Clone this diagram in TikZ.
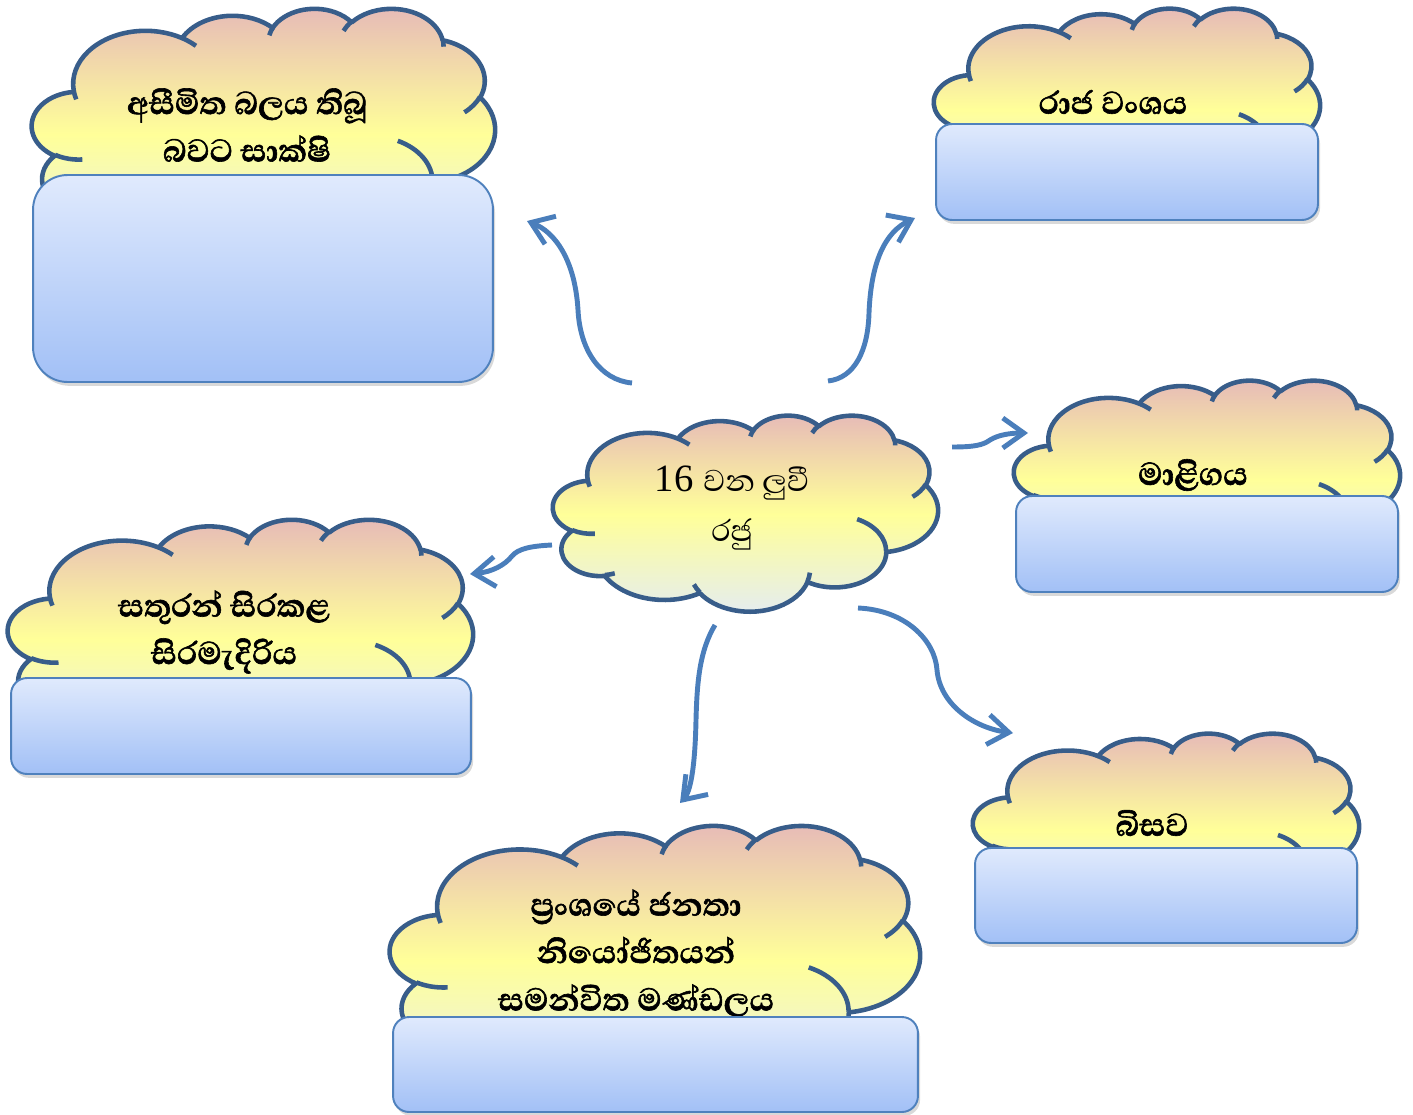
\documentclass[tikz,border=0pt]{standalone}
\usepackage{fontspec}
\setmainfont{Liberation Serif}
\newfontfamily\sinhala[Script=Sinhala, BoldFeatures={FakeBold=1.5}]{Abhaya Libre}
\usetikzlibrary{arrows.meta,shadows}
\definecolor{cloudedge}{HTML}{385D8A}
\definecolor{cloudtop}{HTML}{E6B9B8}
\definecolor{cloudmid}{HTML}{FFFF99}
\definecolor{cloudbot}{HTML}{E4ECF2}
\definecolor{paneledge}{HTML}{4F81BD}
\definecolor{paneltop}{HTML}{E0EAFD}
\definecolor{panelbot}{HTML}{A2C0F6}
\definecolor{flowblue}{HTML}{4A7EBB}

\newcommand\pptarc[4]{%
  \pgfextra{%
    \pgfmathparse{atan2((#1)*sin(#3),(#2)*cos(#3))}\xdef\arcbeg{\pgfmathresult}%
    \pgfmathparse{atan2((#1)*sin((#3)+(#4)),(#2)*cos((#3)+(#4)))-\arcbeg}\xdef\arcraw{\pgfmathresult}%
    \pgfmathparse{\arcraw-360*round((\arcraw-(#4))/360)}\xdef\arcdel{\pgfmathresult}}%
  arc[x radius=#1, y radius=#2, start angle=\arcbeg, delta angle=\arcdel]}

\newcommand\pptcloud[4]{%
  \begin{scope}[shift={(#1,#2)}, xscale=#3/432, yscale=#4/432]
    \path[cloud-body] (39.00,143.70)
      \pptarc{67.53}{91.90}{-190.4875}{123.7805}
      \pptarc{53.33}{72.67}{-144.1024}{89.9452}
      \pptarc{43.65}{59.45}{-145.8079}{99.7230}
      \pptarc{48.57}{65.95}{-130.9861}{117.2417}
      \pptarc{53.33}{72.73}{-78.7089}{109.0269}
      \pptarc{67.75}{92.20}{-46.2673}{130.2690}
      \pptarc{57.85}{78.67}{0.6250}{114.0333}
      \pptarc{67.52}{92.15}{22.4516}{115.1726}
      \pptarc{77.20}{105.43}{66.2426}{75.7110}
      \pptarc{43.60}{59.18}{-274.9421}{146.7356}
      \pptarc{43.45}{59.45}{-246.8285}{152.5189}
      -- cycle;
    \draw[cloud-line]
      (46.93,261.77) \pptarc{43.45}{59.45}{86.7420}{26.4295}
      (69.28,348.99) \pptarc{43.60}{59.18}{73.6105}{11.4475}
      (164.78,390.90) \pptarc{67.52}{92.15}{137.6242}{14.0811}
      (288.27,347.51) \pptarc{67.52}{92.15}{6.4533}{15.9984}
      (341.29,229.54) \pptarc{57.85}{78.67}{-70.2924}{70.9174}
      (417.98,153.54) \pptarc{53.33}{72.73}{30.3180}{27.7515}
      (383.24,54.26) \pptarc{48.57}{65.95}{-13.7443}{14.8589}
      (290.78,39.52) \pptarc{48.57}{65.95}{-149.1815}{18.1954}
      (221.41,47.20) \pptarc{43.65}{59.45}{-163.4943}{17.6864}
      (140.00,51.92) \pptarc{67.53}{91.90}{-66.7070}{12.3194}
      (41.27,157.89) \pptarc{67.53}{91.90}{157.6544}{11.8582};
  \end{scope}}

\begin{document}
\begin{tikzpicture}[x=0.02cm, y=-0.02cm,
        cloud-body/.style={draw=cloudedge, line width=2.6pt, line join=round,
                           top color=cloudtop, bottom color=cloudbot, middle color=cloudmid},
        cloud-line/.style={draw=cloudedge, line width=2.6pt},
        panel/.style={draw=paneledge, line width=1.1pt, top color=paneltop, bottom color=panelbot,
                      drop shadow={shadow xshift=1.2pt, shadow yshift=-2.2pt, opacity=0.3}},
        topic/.style={align=center, inner sep=0pt,
                      font=\sinhala\bfseries\fontsize{23}{27}\selectfont},
        flow/.style={draw=flowblue, line width=2.8pt, -{Straight Barb[length=4.2mm, width=6mm]}}
    ]
        \useasboundingbox (0,0) rectangle (1413,1115);

        \pptcloud{32}{8}{463}{250}
        \node[topic] (proof) at (247,125) {අසීමිත බලය තිබූ\\බවට සාක්ෂි};
        \node[panel, minimum width=9.2cm, minimum height=4.14cm, rounded corners=0.69cm]
            (proof-box) at (263,278.5) {};

        \pptcloud{934}{8}{386}{200}
        \node[topic] (dynasty) at (1113,102) {රාජ වංශය};
        \node[panel, minimum width=7.64cm, minimum height=1.92cm, rounded corners=0.32cm]
            (dynasty-box) at (1127,172) {};

        \pptcloud{553}{415}{385}{196}
        \node[align=center, inner sep=0pt, font=\fontsize{22}{29}\selectfont] (king)
            at (732,508) {16 {\sinhala වන ලුවී}\\{\sinhala රජු}};

        \pptcloud{1014}{380}{386}{196}
        \node[topic] (palace) at (1193,475) {මාළිගය};
        \node[panel, minimum width=7.64cm, minimum height=1.92cm, rounded corners=0.32cm]
            (palace-box) at (1207,544) {};

        \pptcloud{973}{733}{386}{192}
        \node[topic] (queen) at (1152,823) {බිසව};
        \node[panel, minimum width=7.64cm, minimum height=1.9cm, rounded corners=0.32cm]
            (queen-box) at (1166,895.5) {};

        \pptcloud{8}{519}{465}{237}
        \node[topic] (prison) at (224,632) {සතුරන් සිරකළ\\සිරමැදිරිය};
        \node[panel, minimum width=9.2cm, minimum height=1.92cm, rounded corners=0.32cm]
            (prison-box) at (241,726) {};

        \pptcloud{390}{825}{530}{268}
        \node[topic] (assembly) at (636,953)
            {ප්^^^^200dරංශයේ ජනතා\\නියෝජිතයන්\\සමන්විත මණ්ඩලය};
        \node[panel, minimum width=10.5cm, minimum height=1.9cm, rounded corners=0.32cm]
            (assembly-box) at (655.5,1064.5) {};

        \coordinate (king-nw) at (632,383);
        \coordinate (king-ne) at (828,381);
        \coordinate (king-e) at (952,447);
        \coordinate (king-w) at (552,545);
        \coordinate (king-s) at (715,625);
        \coordinate (king-se) at (858,608);
        \coordinate (proof-tip) at (527,221);
        \coordinate (dynasty-tip) at (915,218);
        \coordinate (palace-tip) at (1028,433);
        \coordinate (prison-tip) at (470,574);
        \coordinate (assembly-tip) at (680,803);
        \coordinate (queen-tip) at (1013,733);

        \draw[flow] (king-nw) .. controls (600,380) and (580,350) .. (578,310)
            .. controls (575,260) and (555,232) .. (proof-tip);
        \draw[flow] (king-ne) .. controls (855,378) and (868,350) .. (869,313)
            .. controls (871,262) and (885,232) .. (dynasty-tip);
        \draw[flow] (king-e) .. controls (975,447) and (983,445) .. (990,440)
            .. controls (998,435) and (1010,433) .. (palace-tip);
        \draw[flow] (king-w) .. controls (530,546) and (518,549) .. (512,556)
            .. controls (505,565) and (492,572) .. (prison-tip);
        \draw[flow] (king-s) .. controls (700,650) and (697,680) .. (696,720)
            .. controls (695,770) and (690,792) .. (assembly-tip);
        \draw[flow] (king-se) .. controls (905,610) and (935,640) .. (937,670)
            .. controls (940,705) and (975,728) .. (queen-tip);
    \end{tikzpicture}
\end{document}
